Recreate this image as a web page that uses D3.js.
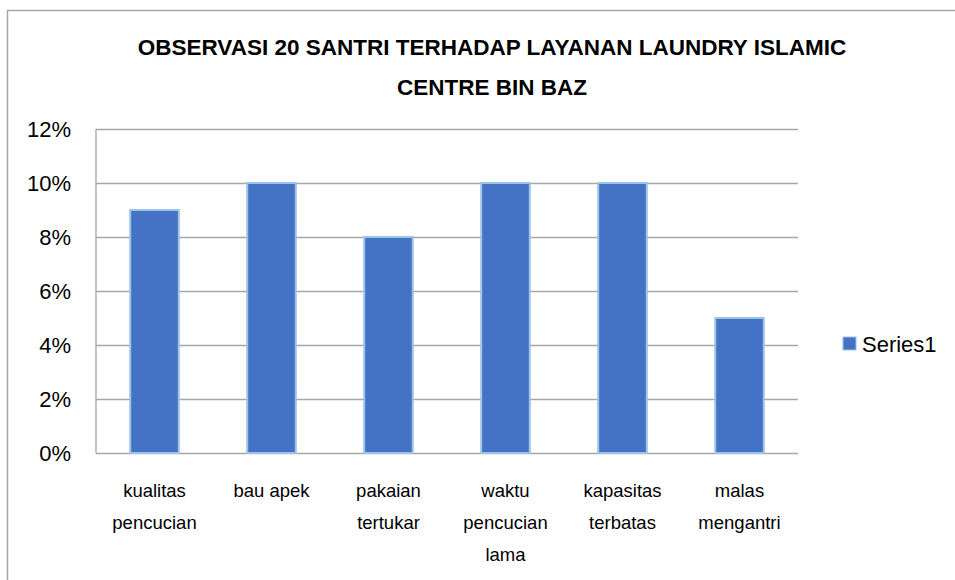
<!DOCTYPE html>
<html>
<head>
<meta charset="utf-8">
<script src="https://cdn.jsdelivr.net/npm/d3@7"></script>
<style>
  body { margin: 0; background: #fff; }
  svg { display: block; }
</style>
</head>
<body>
<svg id="chart" width="955" height="580"></svg>
<script>
// data
var categories = [
  ["kualitas", "pencucian"],
  ["bau apek"],
  ["pakaian", "tertukar"],
  ["waktu", "pencucian", "lama"],
  ["kapasitas", "terbatas"],
  ["malas", "mengantri"]
];
var values = [0.09, 0.10, 0.08, 0.10, 0.10, 0.05];
var yTicks = [0, 0.02, 0.04, 0.06, 0.08, 0.10, 0.12];
var titleLines = ["OBSERVASI 20 SANTRI TERHADAP LAYANAN LAUNDRY ISLAMIC", "CENTRE BIN BAZ"];
var seriesName = "Series1";

var font = "'Liberation Sans', Arial, sans-serif";
var canvas = d3.select("#chart");

// outer frame
canvas.append("rect")
  .attr("x", 7.5).attr("y", 10.5)
  .attr("width", 1000).attr("height", 1000)
  .attr("fill", "none")
  .attr("stroke", "#a6a6a6")
  .attr("stroke-width", 1.5);

var plotLeft = 96, plotRight = 798, plotTop = 129, plotBottom = 453;

var x = d3.scaleBand()
  .domain(d3.range(categories.length))
  .range([plotLeft, plotRight])
  .paddingInner(0.585)
  .paddingOuter(0.2925);

var y = d3.scaleLinear()
  .domain([0, 0.12])
  .range([plotBottom, plotTop]);

// gridlines
canvas.append("g")
  .attr("transform", "translate(" + plotLeft + ",0)")
  .call(d3.axisLeft(y).tickValues(yTicks).tickSize(-(plotRight - plotLeft)).tickFormat(""))
  .call(function (g) { g.select(".domain").remove(); })
  .selectAll("line")
  .attr("stroke", "#a6a6a6")
  .attr("stroke-width", 1.3);

// left axis line
canvas.append("line")
  .attr("x1", plotLeft).attr("x2", plotLeft)
  .attr("y1", plotTop).attr("y2", plotBottom)
  .attr("stroke", "#a6a6a6")
  .attr("stroke-width", 1.3);

// y labels
canvas.append("g")
  .selectAll("text")
  .data(yTicks)
  .join("text")
  .attr("x", 71)
  .attr("y", function (d) { return y(d); })
  .attr("dy", "0.35em")
  .attr("text-anchor", "end")
  .attr("font-family", font)
  .attr("font-size", "22px")
  .attr("fill", "#000")
  .text(d3.format(".0%"));

// bars
canvas.append("g")
  .selectAll("rect")
  .data(values)
  .join("rect")
  .attr("x", function (d, i) { return x(i); })
  .attr("y", function (d) { return y(d); })
  .attr("width", x.bandwidth())
  .attr("height", function (d) { return plotBottom - y(d); })
  .attr("fill", "#4472c4")
  .attr("stroke", "#9dc3e6")
  .attr("stroke-width", 2);

// category labels
var labels = canvas.append("g")
  .selectAll("text")
  .data(categories)
  .join("text")
  .attr("x", function (d, i) { return x(i) + x.bandwidth() / 2; })
  .attr("y", 497)
  .attr("text-anchor", "middle")
  .attr("font-family", font)
  .attr("font-size", "18.5px")
  .attr("fill", "#000");
labels.selectAll("tspan")
  .data(function (d) { return d; })
  .join("tspan")
  .attr("x", function () { return d3.select(this.parentNode).attr("x"); })
  .attr("dy", function (d, i) { return i === 0 ? 0 : 32; })
  .text(function (d) { return d; });

// title
canvas.append("g")
  .selectAll("text")
  .data(titleLines)
  .join("text")
  .attr("x", 492)
  .attr("y", function (d, i) { return 55 + i * 40; })
  .attr("text-anchor", "middle")
  .attr("font-family", font)
  .attr("font-weight", "bold")
  .attr("font-size", "22.5px")
  .attr("fill", "#000")
  .text(function (d) { return d; });

// legend
canvas.append("rect")
  .attr("x", 843).attr("y", 337)
  .attr("width", 13).attr("height", 13)
  .attr("fill", "#4472c4")
  .attr("stroke", "#9dc3e6")
  .attr("stroke-width", 1);
canvas.append("text")
  .attr("x", 862).attr("y", 344)
  .attr("dy", "0.35em")
  .attr("font-family", font)
  .attr("font-size", "22px")
  .attr("fill", "#000")
  .text(seriesName);
</script>
</body>
</html>
